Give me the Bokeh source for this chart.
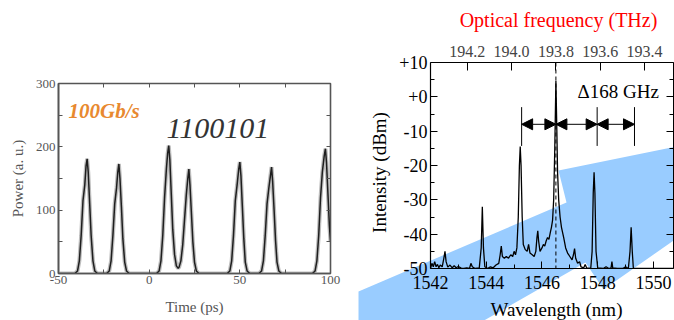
import math
from bokeh.plotting import figure
from bokeh.layouts import column
from bokeh.models import (Range1d, LinearAxis, FixedTicker, Label, Arrow, NormalHead,
                          Span, PrintfTickFormatter, GridBox)
from bokeh.embed import file_html
from bokeh.resources import INLINE

# ---------------- Left panel data: pulse train ----------------
pulse_time = [-50, -41, -39.5, -38.5, -37.5, -36.5, -35.5, -34.8, -34.2, -33.6, -32.8, -32, -31, -30, -28.5,
              -23.5, -22, -21, -20, -19, -18, -17.3, -16.7, -16.1, -15.3, -14.5, -13.5, -12.5, -11,
              4, 5.5, 6.5, 7.5, 8.5, 9.5, 10.2, 10.8, 11.4, 12.2, 13, 14, 15, 16,
              16.5, 17.5, 18.5, 19.5, 20.5, 21.3, 21.9, 22.5, 23.3, 24.1, 25, 26, 27.5,
              43, 44.5, 45.5, 46.5, 47.5, 48.5, 49.4, 50, 50.6, 51.4, 52.2, 53, 54, 55.5,
              60.5, 62, 63, 64, 65, 66, 66.9, 67.5, 68.1, 68.9, 69.7, 70.5, 71.5, 73,
              90, 91.5, 92.5, 93.5, 94.5, 95.5, 96.5, 97.2, 97.8, 98.6, 99.4, 100]
pulse_power = [0, 0, 4, 20, 60, 115, 140, 170, 181, 160, 110, 60, 20, 4, 0,
               0, 4, 20, 60, 110, 135, 160, 173, 150, 105, 55, 18, 4, 0,
               0, 4, 20, 60, 120, 165, 190, 202, 180, 125, 70, 30, 12, 8,
               10, 20, 45, 85, 125, 150, 165, 140, 95, 50, 18, 4, 0,
               0, 4, 20, 60, 115, 140, 165, 176, 155, 105, 55, 18, 4, 0,
               0, 4, 20, 60, 110, 135, 155, 168, 145, 100, 52, 18, 4, 0,
               0, 4, 20, 60, 120, 160, 185, 197, 175, 125, 75, 50]
time_ticks = [-50, -25, 0, 25, 50, 75, 100]
time_labels = {-50: "-50", -25: "", 0: "0", 25: "", 50: "50", 75: "", 100: "100"}
power_ticks = [0, 50, 100, 150, 200, 250, 300]
power_labels = {0: "0", 50: "", 100: "100", 150: "", 200: "200", 250: "", 300: "300"}

# ---------------- Right panel data: optical spectrum ----------------
wavelength = [1542.00, 1542.05, 1542.10, 1542.15, 1542.20, 1542.25, 1542.30, 1542.35, 1542.42, 1542.48,
              1542.52, 1542.56, 1542.62, 1542.70, 1542.78, 1542.85, 1542.92, 1543.00, 1543.10, 1543.20,
              1543.30, 1543.40, 1543.45, 1543.50, 1543.60, 1543.75, 1543.82, 1543.86, 1543.90, 1543.95,
              1544.05, 1544.15, 1544.25, 1544.35, 1544.45, 1544.50, 1544.54, 1544.58, 1544.65, 1544.72,
              1544.80, 1544.88, 1544.95, 1545.00, 1545.05, 1545.10, 1545.15, 1545.19, 1545.22, 1545.25,
              1545.29, 1545.33, 1545.40, 1545.47, 1545.52, 1545.57, 1545.65, 1545.72, 1545.78, 1545.82,
              1545.85, 1545.88, 1545.93, 1546.00, 1546.05, 1546.10, 1546.15, 1546.20, 1546.25, 1546.30,
              1546.34, 1546.38, 1546.42, 1546.46, 1546.50, 1546.53, 1546.56, 1546.60, 1546.65, 1546.70,
              1546.78, 1546.85, 1546.92, 1547.00, 1547.08, 1547.13, 1547.17, 1547.21, 1547.28, 1547.35,
              1547.40, 1547.50, 1547.55, 1547.60, 1547.75, 1547.80, 1547.84, 1547.87, 1547.90, 1547.94,
              1548.00, 1548.20, 1548.30, 1548.40, 1548.48, 1548.51, 1548.54, 1548.70, 1548.90, 1549.00,
              1549.10, 1549.16, 1549.20, 1549.24, 1549.28, 1550.70]
intensity = [-50, -48.5, -49.5, -48, -49.5, -48.8, -49.8, -49, -49.5, -47,
             -45, -48, -49.6, -49, -49.8, -49.2, -49.8, -49.4, -49.9, -50,
             -49.8, -50, -48.5, -49.5, -50, -49.8, -44, -32, -44, -49.5,
             -50, -49.5, -49.8, -49, -48.5, -46, -43.5, -46.5, -47, -46.5,
             -47, -46, -46.5, -45, -46, -44, -35, -20, -14.5, -20,
             -35, -43, -44.5, -45, -43, -45.5, -46, -46.5, -45, -41,
             -39, -42, -45, -44, -43, -43.5, -42, -41, -41.5, -39.5,
             -38, -36, -30, -15, 4.7, -8, -22, -30, -35, -38,
             -41, -44, -45.5, -46.5, -47.5, -46, -44.2, -47, -48.5, -48,
             -49.5, -49.8, -48.8, -49.8, -50, -45, -28, -22, -28, -45,
             -49.8, -50, -49.5, -50, -49.8, -48, -49.8, -50, -50, -49.5,
             -50, -45, -38, -45, -50, -50]
freq_ticks = [194.2, 194.0, 193.8, 193.6, 193.4]
wl_ticks = [1542, 1544, 1546, 1548, 1550]
wl_minor = [1543, 1545, 1547, 1549]
db_ticks = [10, 0, -10, -20, -30, -40, -50]
db_minor = [5, -5, -15, -25, -35, -45]
db_labels = {10: "+10", 0: "+0", -10: "-10", -20: "-20", -30: "-30", -40: "-40", -50: "-50"}
center_wl = 1546.5
spacing_marks = [1545.27, 1546.5, 1547.98, 1549.32]
arrow_level = -8
mark_top = -3
mark_bottom = -14.3

SERIF = "Liberation Serif"
GREY = "#555555"

# ---------------- Left figure ----------------
left = figure(width=345, height=320, x_range=Range1d(-50, 100), y_range=Range1d(0, 300),
              output_backend="svg", toolbar_location=None,
              min_border_left=58, min_border_right=15, min_border_top=83, min_border_bottom=47)
left.xgrid.visible = False
left.ygrid.visible = False
left.outline_line_color = GREY
left.outline_line_width = 1.6
left.line(pulse_time, pulse_power, line_color="#bdbdbd", line_width=4)
left.line(pulse_time, pulse_power, line_color="#1e1e1e", line_width=1.5)

left.xaxis.ticker = FixedTicker(ticks=time_ticks)
left.xaxis.major_label_overrides = time_labels
left.yaxis.ticker = FixedTicker(ticks=power_ticks)
left.yaxis.major_label_overrides = power_labels
for ax in [left.xaxis[0], left.yaxis[0]]:
    ax.major_tick_in = 4
    ax.major_tick_out = 0
    ax.minor_tick_line_color = None
    ax.axis_line_color = GREY
    ax.axis_line_width = 1.6
    ax.major_tick_line_color = GREY
    ax.major_label_text_font = SERIF
    ax.major_label_text_font_size = "13px"
    ax.major_label_text_color = GREY
    ax.axis_label_text_font = SERIF
    ax.axis_label_text_font_style = "normal"
    ax.axis_label_text_color = GREY
    ax.axis_label_text_font_size = "15px"
left.xaxis.major_label_standoff = 2
left.yaxis.major_label_standoff = 3
left.yaxis.axis_label = "Power (a. u.)"
left.yaxis.axis_label_standoff = 7
left.xaxis.axis_label = "Time (ps)"
left.xaxis.axis_label_standoff = 12

for loc, tk in [("above", time_ticks), ("right", power_ticks)]:
    left.add_layout(LinearAxis(ticker=FixedTicker(ticks=tk), major_label_text_font_size="1px",
                               major_label_text_color=None,
                               major_tick_in=4, major_tick_out=0, minor_tick_line_color=None,
                               axis_line_color=GREY, major_tick_line_color=GREY,
                               major_label_standoff=0), loc)

left.add_layout(Label(x=10, y=163, x_units="screen", y_units="screen", text="100Gb/s",
                      text_font=SERIF, text_font_style="bold italic", text_font_size="21px",
                      text_color="#e8892f", text_baseline="middle"))
left.add_layout(Label(x=108, y=145, x_units="screen", y_units="screen", text="1100101",
                      text_font=SERIF, text_font_style="italic", text_font_size="30px",
                      text_color="#333333", text_baseline="middle"))

# ---------------- Right panel background (light-blue ribbon + titles) ----------------
bg = figure(width=329, height=320, x_range=Range1d(345, 674), y_range=Range1d(320, 0),
            x_axis_type=None, y_axis_type=None, output_backend="svg", toolbar_location=None,
            min_border=0, min_border_left=0, min_border_right=0, min_border_top=0, min_border_bottom=0)
bg.outline_line_color = None
bg.grid.visible = False
band_x = [358, 566, 558, 676, 676, 603, 585, 480, 358]
band_y = [291, 202, 170, 146, 238, 289, 262, 322, 322]
bg.patch(band_x, band_y, fill_color="#99ccff", line_color=None)
bg.add_layout(Label(x=558, y=19, text="Optical frequency (THz)",
                    text_font=SERIF, text_font_size="20px", text_color="#ff0000",
                    text_align="center", text_baseline="middle"))
bg.add_layout(Label(x=379, y=172, text="Intensity (dBm)",
                    angle=math.pi / 2, text_font=SERIF, text_font_size="19px", text_color="black",
                    text_align="center", text_baseline="middle"))
bg.add_layout(Label(x=556, y=309, text="Wavelength (nm)",
                    text_font=SERIF, text_font_size="19px", text_color="black",
                    text_align="center", text_baseline="middle"))

# ---------------- Right figure (transparent, on top) ----------------
right = figure(width=329, height=320, x_range=Range1d(1542, 1550.72), y_range=Range1d(-50, 10),
               output_backend="svg", toolbar_location=None,
               min_border_left=85, min_border_right=1, min_border_top=62, min_border_bottom=52)
right.xgrid.visible = False
right.ygrid.visible = False
right.outline_line_color = None
right.background_fill_color = None
right.border_fill_color = None

right.line(wavelength, intensity, line_color="black", line_width=1.3)
right.add_layout(Span(location=center_wl, dimension="height", line_color="black",
                      line_width=1, line_dash="4 3"))

marks = [spacing_marks[0], spacing_marks[2], spacing_marks[3]]
right.segment(x0=marks, y0=[mark_top] * 3, x1=marks, y1=[mark_bottom] * 3,
              line_color="black", line_width=1)
for i in range(3):
    right.add_layout(Arrow(start=NormalHead(size=11, fill_color="black", line_color="black"),
                           end=NormalHead(size=11, fill_color="black", line_color="black"),
                           x_start=spacing_marks[i], x_end=spacing_marks[i + 1],
                           y_start=arrow_level, y_end=arrow_level,
                           line_color="black", line_width=1))

right.xaxis.ticker = FixedTicker(ticks=wl_ticks, minor_ticks=wl_minor)
right.yaxis.ticker = FixedTicker(ticks=db_ticks, minor_ticks=db_minor)
right.yaxis.major_label_overrides = db_labels
for ax in [right.xaxis[0], right.yaxis[0]]:
    ax.major_tick_in = 7
    ax.major_tick_out = 0
    ax.minor_tick_in = 4
    ax.minor_tick_out = 0
    ax.axis_line_color = "black"
    ax.axis_line_width = 1.2
    ax.major_tick_line_color = "black"
    ax.minor_tick_line_color = "black"
    ax.major_label_text_font = SERIF
    ax.major_label_text_font_size = "18px"
    ax.major_label_text_color = "black"
right.xaxis.major_label_standoff = 7
right.yaxis.major_label_standoff = 3

right.extra_x_ranges = {"freq": Range1d(start=194.366, end=193.269)}
top_ax = LinearAxis(x_range_name="freq", ticker=FixedTicker(ticks=freq_ticks),
                    formatter=PrintfTickFormatter(format="%.1f"),
                    major_tick_in=8, major_tick_out=0, minor_tick_line_color=None,
                    axis_line_color="black", axis_line_width=1.2, major_tick_line_color="black",
                    major_label_text_font=SERIF, major_label_text_font_size="16px",
                    major_label_standoff=6)
right.add_layout(top_ax, "above")
rr = LinearAxis(ticker=FixedTicker(ticks=db_ticks, minor_ticks=db_minor),
                major_label_text_font_size="1px", major_label_text_color=None,
                major_tick_in=7, major_tick_out=0, minor_tick_in=4, minor_tick_out=0,
                axis_line_color="black", major_tick_line_color="black", minor_tick_line_color="black",
                major_label_standoff=0)
right.add_layout(rr, "right")

right.add_layout(Label(x=147, y=177, x_units="screen", y_units="screen", text="\u0394168 GHz",
                       text_font=SERIF, text_font_size="19px", text_color="black",
                       text_baseline="middle"))

layout = GridBox(children=[(column(left), 0, 0), (column(bg), 0, 1), (column(right), 0, 1)])
open("out.html", "w").write(file_html(layout, INLINE))
